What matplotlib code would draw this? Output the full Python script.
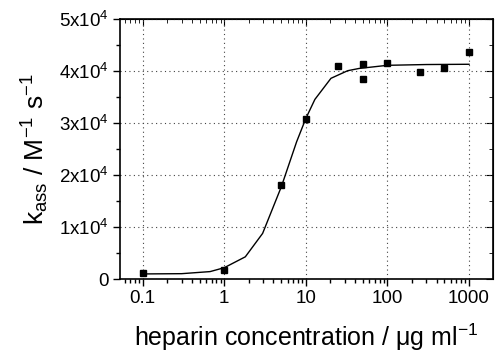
import matplotlib
matplotlib.use('Agg')
import matplotlib.pyplot as plt
from matplotlib.ticker import FixedLocator, LogLocator, NullFormatter, MultipleLocator

plt.rcParams['font.family'] = ['Liberation Sans', 'DejaVu Sans']
plt.rcParams['mathtext.fontset'] = 'custom'
plt.rcParams['mathtext.rm'] = 'Liberation Sans'
plt.rcParams['mathtext.it'] = 'Liberation Sans:italic'

# measured points
conc = [0.1, 1, 5, 10, 25, 50, 50, 100, 250, 500, 1000]
kass = [1200, 1730, 18100, 30800, 41000, 41300, 38500, 41600, 39900, 40600, 43700]

# fitted curve
fit_x = [0.1, 0.3, 0.67, 1.0, 1.81, 2.95, 5.0, 7.7, 10, 12.9, 20.3, 32.5, 45, 100, 300, 1000]
fit_y = [1000, 1050, 1450, 2200, 4290, 8790, 17750, 26400, 30900, 34550, 38600, 40060, 40500, 41100, 41250, 41300]

y_ticks = [0, 10000, 20000, 30000, 40000, 50000]
y_tick_labels = ['0', '1x10$^4$', '2x10$^4$', '3x10$^4$', '4x10$^4$', '5x10$^4$']
x_ticks = [0.1, 1, 10, 100, 1000]
x_tick_labels = ['0.1', '1', '10', '100', '1000']

fig = plt.figure(figsize=(4.98, 3.52), dpi=100)
ax = fig.add_axes([0.241, 0.207, 0.749, 0.739])

ax.plot(fit_x, fit_y, color='black', lw=1.0)
ax.plot(conc, kass, 's', color='black', ms=4.5)

ax.set_xscale('log')
ax.set_xlim(0.0527, 1968)
ax.set_ylim(0, 50000)

ax.xaxis.set_major_locator(FixedLocator(x_ticks))
ax.set_xticklabels(x_tick_labels)
ax.xaxis.set_minor_locator(LogLocator(base=10, subs=range(2, 10), numticks=20))
ax.xaxis.set_minor_formatter(NullFormatter())
ax.set_yticks(y_ticks)
ax.set_yticklabels(y_tick_labels)
ax.yaxis.set_minor_locator(MultipleLocator(5000))

ax.grid(True, which='major', color='#444444', ls=(0, (1, 3)), lw=0.8)

for s in ax.spines.values():
    s.set_linewidth(1.2)

ax.tick_params(which='both', direction='out', labelsize=13.5, width=1.0, pad=3)
ax.tick_params(which='major', length=5)
ax.tick_params(which='minor', length=3)

# mirrored inner ticks on top and right
axt = ax.secondary_xaxis('top')
axt.xaxis.set_major_locator(FixedLocator(x_ticks))
axt.xaxis.set_minor_locator(LogLocator(base=10, subs=range(2, 10), numticks=20))
axt.tick_params(which='both', direction='in', labeltop=False)
axt.tick_params(which='major', length=5)
axt.tick_params(which='minor', length=3)
axr = ax.secondary_yaxis('right')
axr.set_yticks(y_ticks)
axr.yaxis.set_minor_locator(MultipleLocator(5000))
axr.tick_params(which='both', direction='in', labelright=False)
axr.tick_params(which='major', length=5)
axr.tick_params(which='minor', length=3)

ax.set_xlabel('heparin concentration / μg ml$^{\\mathrm{-1}}$', fontsize=18, labelpad=10)
ax.set_ylabel('k$_{\\mathrm{ass}}$ / M$^{\\mathrm{-1}}$ s$^{\\mathrm{-1}}$', fontsize=19, labelpad=6)

fig.savefig('out.png', dpi=100)
